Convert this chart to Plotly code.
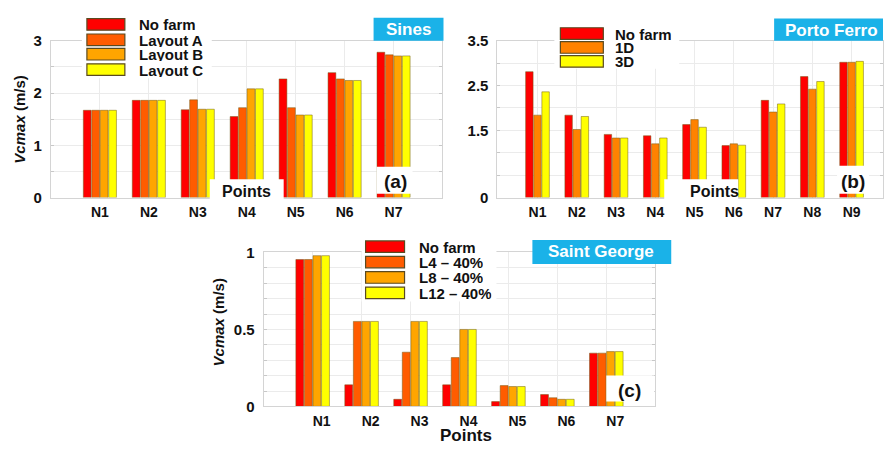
import plotly.graph_objects as go

# ---------------- data ----------------
sines_points = ["N1", "N2", "N3", "N4", "N5", "N6", "N7"]
sines_series = ["No farm", "Layout A", "Layout B", "Layout C"]
sines_no_farm = [1.67, 1.86, 1.68, 1.55, 2.27, 2.39, 2.78]
sines_layout_a = [1.67, 1.86, 1.87, 1.72, 1.72, 2.27, 2.73]
sines_layout_b = [1.67, 1.86, 1.69, 2.08, 1.58, 2.24, 2.71]
sines_layout_c = [1.67, 1.86, 1.69, 2.08, 1.58, 2.24, 2.71]
sines_yticks = [0, 1, 2, 3]

porto_points = ["N1", "N2", "N3", "N4", "N5", "N6", "N7", "N8", "N9"]
porto_series = ["No farm", "1D", "3D"]
porto_no_farm = [2.81, 1.84, 1.41, 1.38, 1.63, 1.16, 2.17, 2.70, 3.02]
porto_1d = [1.84, 1.52, 1.33, 1.20, 1.74, 1.20, 1.91, 2.42, 3.02]
porto_3d = [2.36, 1.81, 1.33, 1.33, 1.57, 1.17, 2.09, 2.59, 3.04]
porto_yticks = [0, 1.5, 2.5, 3.5]

sg_points = ["N1", "N2", "N3", "N4", "N5", "N6", "N7"]
sg_series = ["No farm", "L4 – 40%", "L8 – 40%", "L12 – 40%"]
sg_no_farm = [0.954, 0.14, 0.046, 0.14, 0.031, 0.077, 0.346]
sg_l4 = [0.954, 0.552, 0.352, 0.317, 0.135, 0.056, 0.346]
sg_l8 = [0.979, 0.552, 0.552, 0.50, 0.129, 0.046, 0.356]
sg_l12 = [0.979, 0.552, 0.552, 0.50, 0.129, 0.046, 0.356]
sg_yticks = [0, 0.5, 1]

# ---------------- style ----------------
W, H = 884, 450
FONT = "Liberation Sans, Arial, sans-serif"
RED, ORA, AMB, YEL, ORB = "#ff0000", "#ff5c00", "#ffa500", "#ffff00", "#ff8200"
BLUE = "#1ab2e8"
GRID = "#ebebeb"
FRAME = "#d4d4d4"
BAR_EDGE = "rgba(110,90,20,0.7)"


def px(x):
    return x / W


def py(y):
    return 1 - y / H


fig = go.Figure()


def add_group(xaxis, yaxis, cats, series_vals, names, colors, group_w):
    n = len(series_vals)
    slot = group_w / n
    bw = slot * 0.92
    for i, (vals, name, col) in enumerate(zip(series_vals, names, colors)):
        fig.add_trace(go.Bar(
            x=cats, y=vals, name=name, xaxis=xaxis, yaxis=yaxis,
            marker=dict(color=col, line=dict(color=BAR_EDGE, width=0.7)),
            width=bw, offset=-group_w / 2 + i * slot + (slot - bw) / 2,
            showlegend=False,
        ))


add_group("x", "y", sines_points,
          [sines_no_farm, sines_layout_a, sines_layout_b, sines_layout_c],
          sines_series, [RED, ORA, AMB, YEL], 0.69)
add_group("x2", "y2", porto_points,
          [porto_no_farm, porto_1d, porto_3d],
          porto_series, [RED, ORB, YEL], 0.62)
add_group("x3", "y3", sg_points,
          [sg_no_farm, sg_l4, sg_l8, sg_l12],
          sg_series, [RED, ORA, AMB, YEL], 0.70)


def xax(domain, rng, shift=0):
    return dict(domain=domain, range=rng, type="category",
                showline=True, linecolor=FRAME, linewidth=1, mirror=True,
                showgrid=True, gridcolor=GRID, ticks="",
                tickfont=dict(family=FONT, size=14, color="#111", weight="bold"),
                ticklabelstandoff=2, ticklabelshift=shift, fixedrange=True)


def yax(domain, rng, ticks, minor_dt, anchor):
    return dict(domain=domain, range=rng, anchor=anchor,
                tickvals=ticks, ticktext=[str(t) for t in ticks],
                showline=True, linecolor=FRAME, linewidth=1, mirror="ticks",
                showgrid=True, gridcolor=GRID, zeroline=False,
                ticks="inside", ticklen=3, tickcolor="#c8c8c8",
                minor=dict(dtick=minor_dt, tick0=0, showgrid=True, gridcolor=GRID,
                           ticks="inside", ticklen=3, tickcolor="#c8c8c8"),
                tickfont=dict(family=FONT, size=15, color="#111", weight="bold"),
                ticklabelstandoff=5, fixedrange=True)


fig.update_layout(
    width=W, height=H, margin=dict(l=0, r=0, t=0, b=0),
    paper_bgcolor="white", plot_bgcolor="white",
    barmode="group", showlegend=False,
    xaxis=dict(xax([px(51), px(443)], [-1, 7]), anchor="y"),
    yaxis=yax([py(196), py(33)], [0, 3], sines_yticks, 0.5, "x"),
    xaxis2=dict(xax([px(498), 1.0], [-1.02, 8.8]), anchor="y2"),
    yaxis2=yax([py(196), py(33)], [0, 3.5], porto_yticks, 0.5, "x2"),
    xaxis3=dict(xax([px(264), px(656)], [-1, 7], shift=9), anchor="y3"),
    yaxis3=yax([py(413), py(253)], [0, 1], sg_yticks, 0.1, "x3"),
)

shapes = []
annos = []


def rect(x0, y0, x1, y1, fill, line_col=None, lw=0):
    shapes.append(dict(type="rect", xref="paper", yref="paper", layer="above",
                       x0=px(x0), x1=px(x1), y0=py(y1), y1=py(y0),
                       fillcolor=fill,
                       line=dict(color=line_col or fill, width=lw)))


def text(x, y, s, size, color="#111", xanchor="center", angle=0, height=None):
    a = dict(xref="paper", yref="paper", x=px(x), y=py(y), text=s,
             showarrow=False, xanchor=xanchor, yanchor="middle",
             textangle=angle, borderpad=0,
             font=dict(family=FONT, size=size, color=color, weight="bold"))
    if height:
        a["height"] = height
    annos.append(a)


def legend(names, colors, bg, sw_x0, sw_x1, rows_y, text_x, sw_h=12):
    rect(*bg, "white")
    for name, col, yc in zip(names, colors, rows_y):
        rect(sw_x0, yc - sw_h / 2, sw_x1, yc + sw_h / 2, col, "#5a4a20", 1.2)
        text(text_x, yc, name, 15, xanchor="left", height=14)


# legends
legend(sines_series, [RED, ORA, AMB, YEL], (82, 0, 212, 72),
       87, 125, [16, 32, 47, 63], 138)
legend(porto_series, [RED, ORB, YEL], (555, 14, 680, 62),
       561, 604, [25.5, 40, 54.5], 615)
legend(sg_series, [RED, ORA, AMB, YEL], (362, 238, 497, 304),
       366, 405, [247, 263, 279, 295], 418)

# white overlay boxes from the original composite
rect(210, 177, 284, 203, "white")
text(247, 190, "Points", 16)
rect(377, 164, 413, 192, "white")
text(396, 179, "(a)", 19)

rect(665, 177, 739, 203, "white")
text(715, 190, "Points", 16)
rect(838, 163, 870, 192, "white")
text(854, 179, "(b)", 19)

rect(607, 381, 655, 408, "white")
text(630, 396, "(c)", 19)

# site title boxes
rect(374, 9, 444, 33, BLUE)
text(409, 21, "Sines", 17, color="white")
rect(775, 10, 884, 33, BLUE)
text(785, 22, "Porto Ferro", 17, color="white", xanchor="left")
rect(533, 240, 672, 265, BLUE)
text(602, 252, "Saint George", 17, color="white")

# axis titles
text(20, 115, "<i>Vcmax</i> (m/s)", 15, angle=-90)
text(219, 326, "<i>Vcmax</i> (m/s)", 15, angle=-90)
text(467, 443, "Points", 17, height=16)

fig.update_layout(shapes=shapes, annotations=annos)
fig.write_html(
    "out.html",
    config={"displayModeBar": False},
    post_script="document.body.style.margin='0';document.body.style.overflow='hidden';",
)
